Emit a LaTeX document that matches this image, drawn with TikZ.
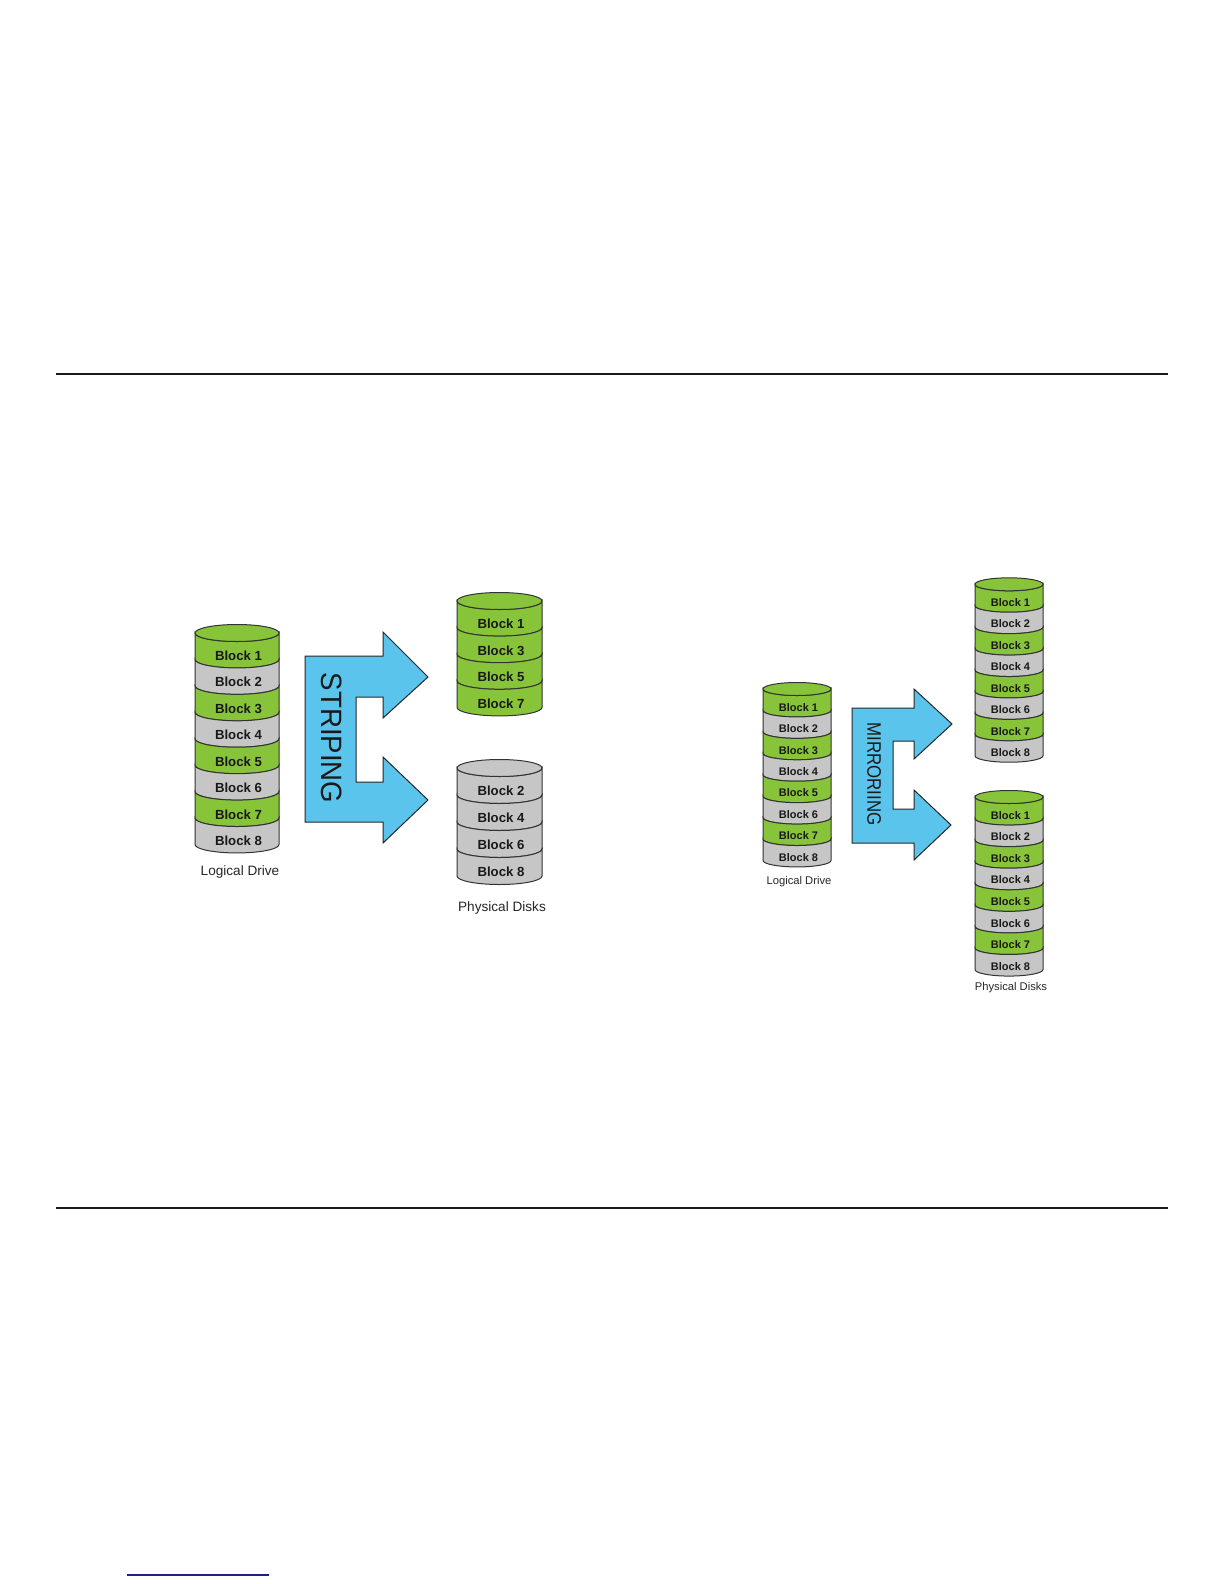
\documentclass[tikz,border=0pt]{standalone}
\usepackage{fontspec}
\setmainfont{Liberation Sans}
\usepackage{xcolor}
\definecolor{blkgreen}{HTML}{88C43A}
\definecolor{blkgray}{HTML}{C6C6C6}
\definecolor{arrowblue}{HTML}{5BC4EC}
\definecolor{rulenavy}{HTML}{1A237E}

% one stacked disk: name, x, y of top rim, half width, rim radius, block height, top colour, blocks
\newcommand{\drum}[8]{%
  \foreach \blk/\col [count=\i from 0] in {#8} {
    \pgfmathsetmacro{\yt}{#3+\i*#6}
    \pgfmathsetmacro{\yb}{\yt+#6}
    \path[drumpart,fill=\col] (#2-#4,\yt) arc[start angle=180,end angle=0,x radius=#4,y radius=#5]
      -- (#2+#4,\yb) arc[start angle=0,end angle=180,x radius=#4,y radius=#5] -- cycle;
    \node[#1font] (#1\blk) at (#2+1.5,\yt+#6/2+#5+1) {Block \blk};
  }
  \path[drumpart,fill=#7] (#2,#3) ellipse[x radius=#4,y radius=#5];
}

\begin{document}
\begin{tikzpicture}[x=0.5pt,y=-0.5pt]
\tikzstyle{drumpart}=[draw=black!80,line width=0.5pt]
\tikzstyle{bigfont}=[font=\fontsize{6.6}{7}\selectfont\bfseries,text=black!90,inner sep=0pt]
\tikzstyle{smallfont}=[font=\fontsize{5.5}{6}\selectfont\bfseries,text=black!90,inner sep=0pt]
\tikzstyle{sfont}=[bigfont]
\tikzstyle{safont}=[bigfont]
\tikzstyle{sbfont}=[bigfont]
\tikzstyle{mfont}=[smallfont]
\tikzstyle{mafont}=[smallfont]
\tikzstyle{mbfont}=[smallfont]
\tikzstyle{bigarrow}=[draw=black!85,line width=0.5pt,fill=arrowblue]
\tikzstyle{caption}=[inner sep=0pt,text=black!85]
\useasboundingbox (0,0) rectangle (1224,1584);

% page rules
\draw[line width=0.7pt,black!90] (56,374) -- (1168,374);
\draw[line width=0.7pt,black!90] (56,1208) -- (1168,1208);
\draw[line width=0.7pt,rulenavy] (127,1575) -- (269,1575);

% striping
\drum{s}{237}{633}{42}{8.5}{26.43}{blkgreen}{1/blkgreen,2/blkgray,3/blkgreen,4/blkgray,5/blkgreen,6/blkgray,7/blkgreen,8/blkgray}
\drum{sa}{499.5}{601}{42.5}{8.5}{26.6}{blkgreen}{1/blkgreen,3/blkgreen,5/blkgreen,7/blkgreen}
\drum{sb}{499.5}{768}{42.5}{8.5}{27}{blkgray}{2/blkgray,4/blkgray,6/blkgray,8/blkgray}
\node[caption,font=\fontsize{6.8}{8}\selectfont] (slog) at (240,872) {Logical Drive};
\node[caption,font=\fontsize{6.8}{8}\selectfont] (sphys) at (502,908) {Physical Disks};

\path[bigarrow] (305,656) -- (383,656) -- (383,632) -- (428,677) -- (383,718) -- (383,697)
  -- (356,697) -- (356,782) -- (383,782) -- (383,757) -- (428,800) -- (383,843) -- (383,822)
  -- (305,822) -- cycle;
\node[rotate=-90,inner sep=0pt,text=black!90,font=\fontsize{14.7}{16}\selectfont] (stripe) at (332,738) {\scalebox{0.94}[1]{STRIPING}};

% mirroring
\drum{m}{797}{689}{34}{6.5}{21.43}{blkgreen}{1/blkgreen,2/blkgray,3/blkgreen,4/blkgray,5/blkgreen,6/blkgray,7/blkgreen,8/blkgray}
\drum{ma}{1009}{584.3}{34}{6.5}{21.43}{blkgreen}{1/blkgreen,2/blkgray,3/blkgreen,4/blkgray,5/blkgreen,6/blkgray,7/blkgreen,8/blkgray}
\drum{mb}{1009}{797}{34}{6.5}{21.57}{blkgreen}{1/blkgreen,2/blkgray,3/blkgreen,4/blkgray,5/blkgreen,6/blkgray,7/blkgreen,8/blkgray}
\node[caption,font=\fontsize{5.6}{7}\selectfont] (mlog) at (799,882) {Logical Drive};
\node[caption,font=\fontsize{5.6}{7}\selectfont] (mphys) at (1011,988) {Physical Disks};

\path[bigarrow] (852,708) -- (914,708) -- (914,689) -- (952,724) -- (914,759) -- (914,741)
  -- (893,741) -- (893,809) -- (914,809) -- (914,790) -- (951,825) -- (914,860) -- (914,843)
  -- (852,843) -- cycle;
\node[rotate=-90,inner sep=0pt,text=black!90,font=\fontsize{9.8}{11}\selectfont] (mirror) at (874,774) {\scalebox{0.86}[1]{MIRRORIING}};
\end{tikzpicture}
\end{document}
